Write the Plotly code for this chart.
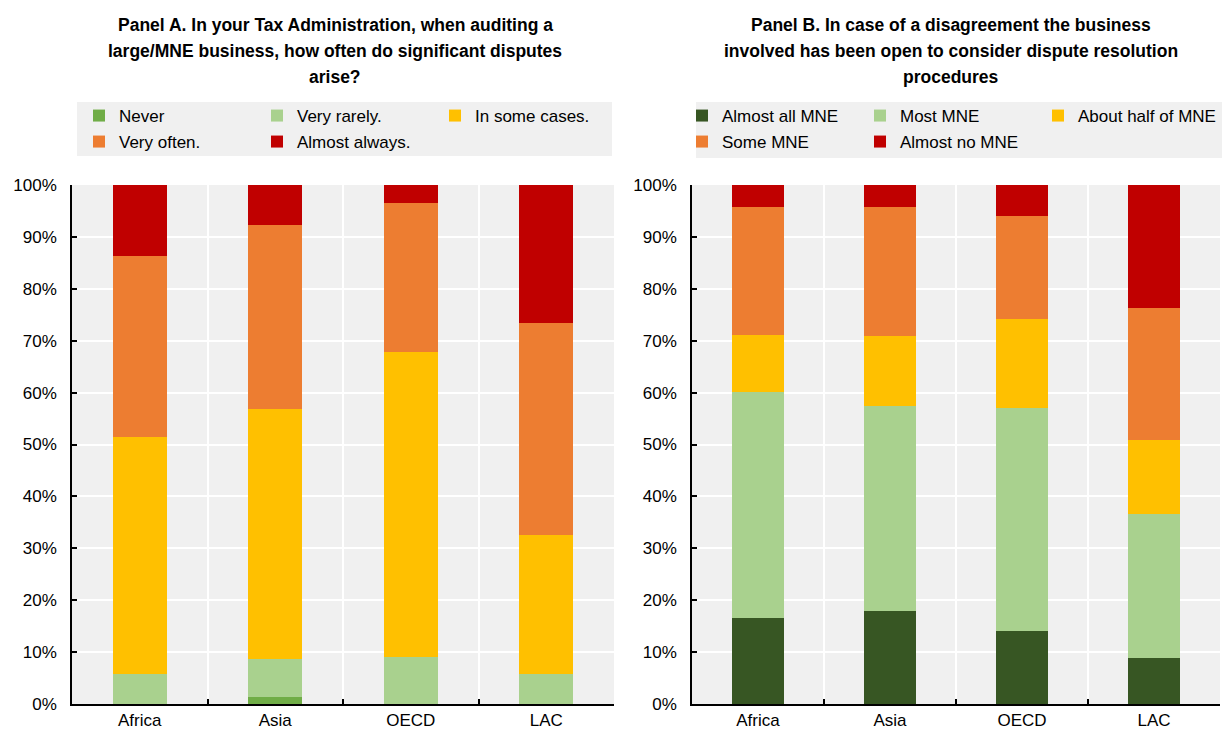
import plotly.graph_objects as go
from plotly.subplots import make_subplots

W, H = 1222, 731

regions = ["Africa", "Asia", "OECD", "LAC"]

# Panel A
a_names = ["Never", "Very rarely.", "In some cases.", "Very often.", "Almost always."]
a_never = [0, 1.4, 0, 0]
a_very_rarely = [5.8, 7.2, 9.0, 5.7]
a_some_cases = [45.7, 48.2, 58.8, 26.9]
a_very_often = [34.8, 35.5, 28.7, 40.8]
a_almost_always = [13.7, 7.7, 3.5, 26.6]

# Panel B
b_names = ["Almost all MNE", "Most MNE", "About half of MNE", "Some MNE", "Almost no MNE"]
b_almost_all = [16.5, 18.0, 14.0, 8.8]
b_most = [43.6, 39.5, 43.0, 27.9]
b_about_half = [11.0, 13.5, 17.1, 14.2]
b_some = [24.6, 24.7, 19.9, 25.4]
b_almost_no = [4.3, 4.3, 6.0, 23.7]

y_ticks = [0, 10, 20, 30, 40, 50, 60, 70, 80, 90, 100]
y_tick_labels = ["0%", "10%", "20%", "30%", "40%", "50%", "60%", "70%", "80%", "90%", "100%"]

a_colors = ["#70AD47", "#A9D18E", "#FFC000", "#ED7D31", "#C00000"]
b_colors = ["#375623", "#A9D18E", "#FFC000", "#ED7D31", "#C00000"]

FONT = "Arial, Liberation Sans, sans-serif"
FS = 17


def px(x):
    return x / W


def py(y):
    return 1 - y / H


fig = make_subplots(rows=1, cols=2)

a_series = [a_never, a_very_rarely, a_some_cases, a_very_often, a_almost_always]
b_series = [b_almost_all, b_most, b_about_half, b_some, b_almost_no]

for i, (name, vals, col) in enumerate(zip(a_names, a_series, a_colors)):
    fig.add_trace(go.Bar(x=regions, y=vals, name=name, marker_color=col,
                         marker_line_width=0, width=0.4,
                         legend="legend" if i < 3 else "legend3"), row=1, col=1)
for i, (name, vals, col) in enumerate(zip(b_names, b_series, b_colors)):
    fig.add_trace(go.Bar(x=regions, y=vals, name=name, marker_color=col,
                         marker_line_width=0, width=0.4,
                         legend="legend2" if i < 3 else "legend4"), row=1, col=2)

axis_common = dict(showline=True, linecolor="black", linewidth=1.5,
                   gridcolor="white", gridwidth=2, automargin=False,
                   tickfont=dict(family=FONT, size=FS, color="black"),
                   ticks="inside", ticklen=5, tickcolor="black", tickwidth=1.5)

fig.update_xaxes(**axis_common, tickson="boundaries", showgrid=True)
fig.update_yaxes(**axis_common, range=[0, 100], tickmode="array", tickvals=y_ticks,
                 ticktext=y_tick_labels, showgrid=True, zeroline=False,
                 ticklabelstandoff=10)

ybot, ytop = py(704), py(185)
fig.update_xaxes(domain=[px(72), px(614)], row=1, col=1)
fig.update_xaxes(domain=[px(692), px(1220)], row=1, col=2)
fig.update_yaxes(domain=[ybot, ytop])

fig.update_layout(
    width=W, height=H,
    margin=dict(l=0, r=0, t=0, b=0),
    barmode="stack",
    plot_bgcolor="#F0F0F0",
    paper_bgcolor="white",
    font=dict(family=FONT, size=FS, color="black"),
)

leg_common = dict(orientation="h", bgcolor="rgba(0,0,0,0)", borderwidth=0,
                  font=dict(family=FONT, size=FS, color="black"),
                  entrywidth=133, entrywidthmode="pixels", traceorder="normal",
                  xanchor="left", yanchor="top", itemwidth=30)
fig.update_layout(
    legend=dict(**leg_common, x=px(79), y=py(98)),
    legend3=dict(**leg_common, x=px(79), y=py(124)),
    legend2=dict(**leg_common, x=px(682), y=py(98)),
    legend4=dict(**leg_common, x=px(682), y=py(124)),
)

# legend background boxes
fig.add_shape(type="rect", xref="paper", yref="paper", x0=px(77), x1=px(612),
              y0=py(156), y1=py(102), fillcolor="#F0F0F0", line_width=0, layer="below")
fig.add_shape(type="rect", xref="paper", yref="paper", x0=px(696), x1=px(1222),
              y0=py(158), y1=py(102), fillcolor="#F0F0F0", line_width=0, layer="below")

a_title = ["Panel A. In your Tax Administration, when auditing a",
           "large/MNE business, how often do significant disputes",
           "arise?"]
b_title = ["Panel B. In case of a disagreement the business",
           "involved has been open to consider dispute resolution",
           "procedures"]
for lines, cx in ((a_title, 335), (b_title, 951)):
    for k, line in enumerate(lines):
        fig.add_annotation(text="<b>" + line + "</b>", xref="paper", yref="paper",
                           x=px(cx), y=py(25 + 26 * k), xanchor="center", yanchor="middle",
                           showarrow=False, font=dict(family=FONT, size=17.5, color="black"))

fig.write_html("out.html")
